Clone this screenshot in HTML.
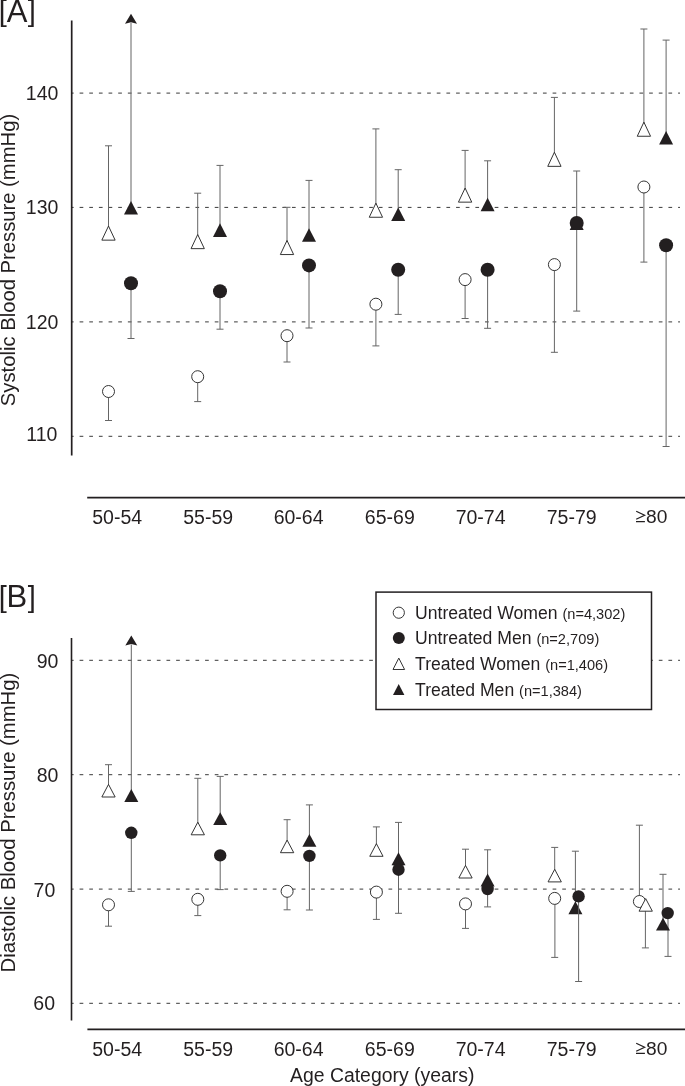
<!DOCTYPE html>
<html><head><meta charset="utf-8"><style>
html,body{margin:0;padding:0;background:#fff;}
svg{display:block;will-change:transform;}
text{font-family:"Liberation Sans",sans-serif;fill:#231f20;}
</style></head><body>
<svg width="685" height="1086" viewBox="0 0 685 1086">
<rect width="685" height="1086" fill="#fff"/>
<text x="-1.2" y="21.3" font-size="29" text-anchor="start" >[</text>
<text x="6.8" y="21.6" font-size="31" text-anchor="start" >A</text>
<text x="27.8" y="21.3" font-size="29" text-anchor="start" >]</text>
<line x1="72" y1="93.1" x2="680" y2="93.1" stroke="#3a3a3a" stroke-width="1" stroke-dasharray="3.7 5.953" stroke-dashoffset="2.05"/>
<line x1="72" y1="207.4" x2="680" y2="207.4" stroke="#3a3a3a" stroke-width="1" stroke-dasharray="3.7 5.953" stroke-dashoffset="2.05"/>
<line x1="72" y1="321.9" x2="680" y2="321.9" stroke="#3a3a3a" stroke-width="1" stroke-dasharray="3.7 5.953" stroke-dashoffset="2.05"/>
<line x1="72" y1="436.3" x2="680" y2="436.3" stroke="#3a3a3a" stroke-width="1" stroke-dasharray="3.7 5.953" stroke-dashoffset="2.05"/>
<line x1="71.7" y1="20.5" x2="71.7" y2="455.5" stroke="#231f20" stroke-width="1.7"/>
<line x1="87.2" y1="497.6" x2="685" y2="497.6" stroke="#231f20" stroke-width="1.8"/>
<text x="58.4" y="99.9" font-size="19.5" text-anchor="end" >140</text>
<text x="58.4" y="214.3" font-size="19.5" text-anchor="end" >130</text>
<text x="58.4" y="328.8" font-size="19.5" text-anchor="end" >120</text>
<text x="57.4" y="441.2" font-size="19.5" text-anchor="end" >110</text>
<text x="15.4" y="406.2" font-size="19.5" transform="rotate(-90 15.4 406.2)" textLength="292.4" lengthAdjust="spacingAndGlyphs">Systolic Blood Pressure (mmHg)</text>
<line x1="108.5" y1="145.8" x2="108.5" y2="233.1" stroke="#656565" stroke-width="1"/>
<line x1="105.0" y1="145.8" x2="112.0" y2="145.8" stroke="#656565" stroke-width="1"/>
<line x1="131.0" y1="22.7" x2="131.0" y2="207.8" stroke="#656565" stroke-width="1"/>
<path d="M131.0 13.7 L137.0 23.7 L131.0 22.2 L125.0 23.7 Z" fill="#231f20"/>
<line x1="131.0" y1="283.3" x2="131.0" y2="338.5" stroke="#656565" stroke-width="1"/>
<line x1="127.5" y1="338.5" x2="134.5" y2="338.5" stroke="#656565" stroke-width="1"/>
<line x1="108.5" y1="391.5" x2="108.5" y2="420.5" stroke="#656565" stroke-width="1"/>
<line x1="105.0" y1="420.5" x2="112.0" y2="420.5" stroke="#656565" stroke-width="1"/>
<path d="M131.0 201.0 L138.0 214.60000000000002 L124.0 214.60000000000002 Z" fill="#231f20"/>
<circle cx="131.0" cy="283.3" r="7.0" fill="#231f20"/>
<circle cx="108.5" cy="391.5" r="6" fill="#fff" stroke="#2a2a2a" stroke-width="0.95"/>
<path d="M108.5 226.04999999999998 L115.15 240.15 L101.85 240.15 Z" fill="#fff" stroke="#2a2a2a" stroke-width="0.95" stroke-linejoin="miter"/>
<line x1="197.7" y1="193.2" x2="197.7" y2="241.6" stroke="#656565" stroke-width="1"/>
<line x1="194.2" y1="193.2" x2="201.2" y2="193.2" stroke="#656565" stroke-width="1"/>
<line x1="220.0" y1="165.4" x2="220.0" y2="230.1" stroke="#656565" stroke-width="1"/>
<line x1="216.5" y1="165.4" x2="223.5" y2="165.4" stroke="#656565" stroke-width="1"/>
<line x1="220.0" y1="291.2" x2="220.0" y2="329.2" stroke="#656565" stroke-width="1"/>
<line x1="216.5" y1="329.2" x2="223.5" y2="329.2" stroke="#656565" stroke-width="1"/>
<line x1="197.7" y1="376.7" x2="197.7" y2="401.6" stroke="#656565" stroke-width="1"/>
<line x1="194.2" y1="401.6" x2="201.2" y2="401.6" stroke="#656565" stroke-width="1"/>
<path d="M220.0 223.29999999999998 L227.0 236.9 L213.0 236.9 Z" fill="#231f20"/>
<circle cx="220.0" cy="291.2" r="7.0" fill="#231f20"/>
<circle cx="197.7" cy="376.7" r="6" fill="#fff" stroke="#2a2a2a" stroke-width="0.95"/>
<path d="M197.7 234.54999999999998 L204.35 248.65 L191.04999999999998 248.65 Z" fill="#fff" stroke="#2a2a2a" stroke-width="0.95" stroke-linejoin="miter"/>
<line x1="287.0" y1="207.3" x2="287.0" y2="247.5" stroke="#656565" stroke-width="1"/>
<line x1="283.5" y1="207.3" x2="290.5" y2="207.3" stroke="#656565" stroke-width="1"/>
<line x1="309.0" y1="180.4" x2="309.0" y2="235.0" stroke="#656565" stroke-width="1"/>
<line x1="305.5" y1="180.4" x2="312.5" y2="180.4" stroke="#656565" stroke-width="1"/>
<line x1="309.0" y1="265.4" x2="309.0" y2="328.0" stroke="#656565" stroke-width="1"/>
<line x1="305.5" y1="328.0" x2="312.5" y2="328.0" stroke="#656565" stroke-width="1"/>
<line x1="287.0" y1="335.7" x2="287.0" y2="362.0" stroke="#656565" stroke-width="1"/>
<line x1="283.5" y1="362.0" x2="290.5" y2="362.0" stroke="#656565" stroke-width="1"/>
<path d="M309.0 228.2 L316.0 241.8 L302.0 241.8 Z" fill="#231f20"/>
<circle cx="309.0" cy="265.4" r="7.0" fill="#231f20"/>
<circle cx="287.0" cy="335.7" r="6" fill="#fff" stroke="#2a2a2a" stroke-width="0.95"/>
<path d="M287.0 240.45 L293.65 254.55 L280.35 254.55 Z" fill="#fff" stroke="#2a2a2a" stroke-width="0.95" stroke-linejoin="miter"/>
<line x1="375.9" y1="128.9" x2="375.9" y2="210.2" stroke="#656565" stroke-width="1"/>
<line x1="372.4" y1="128.9" x2="379.4" y2="128.9" stroke="#656565" stroke-width="1"/>
<line x1="398.2" y1="169.7" x2="398.2" y2="214.2" stroke="#656565" stroke-width="1"/>
<line x1="394.7" y1="169.7" x2="401.7" y2="169.7" stroke="#656565" stroke-width="1"/>
<line x1="398.2" y1="269.8" x2="398.2" y2="314.4" stroke="#656565" stroke-width="1"/>
<line x1="394.7" y1="314.4" x2="401.7" y2="314.4" stroke="#656565" stroke-width="1"/>
<line x1="375.9" y1="304.2" x2="375.9" y2="345.9" stroke="#656565" stroke-width="1"/>
<line x1="372.4" y1="345.9" x2="379.4" y2="345.9" stroke="#656565" stroke-width="1"/>
<path d="M398.2 207.39999999999998 L405.2 221.0 L391.2 221.0 Z" fill="#231f20"/>
<circle cx="398.2" cy="269.8" r="7.0" fill="#231f20"/>
<circle cx="375.9" cy="304.2" r="6" fill="#fff" stroke="#2a2a2a" stroke-width="0.95"/>
<path d="M375.9 203.14999999999998 L382.54999999999995 217.25 L369.25 217.25 Z" fill="#fff" stroke="#2a2a2a" stroke-width="0.95" stroke-linejoin="miter"/>
<line x1="465.1" y1="150.4" x2="465.1" y2="195.1" stroke="#656565" stroke-width="1"/>
<line x1="461.6" y1="150.4" x2="468.6" y2="150.4" stroke="#656565" stroke-width="1"/>
<line x1="487.6" y1="160.8" x2="487.6" y2="204.5" stroke="#656565" stroke-width="1"/>
<line x1="484.1" y1="160.8" x2="491.1" y2="160.8" stroke="#656565" stroke-width="1"/>
<line x1="487.6" y1="269.8" x2="487.6" y2="328.3" stroke="#656565" stroke-width="1"/>
<line x1="484.1" y1="328.3" x2="491.1" y2="328.3" stroke="#656565" stroke-width="1"/>
<line x1="465.1" y1="279.6" x2="465.1" y2="318.5" stroke="#656565" stroke-width="1"/>
<line x1="461.6" y1="318.5" x2="468.6" y2="318.5" stroke="#656565" stroke-width="1"/>
<path d="M487.6 197.7 L494.6 211.3 L480.6 211.3 Z" fill="#231f20"/>
<circle cx="487.6" cy="269.8" r="7.0" fill="#231f20"/>
<circle cx="465.1" cy="279.6" r="6" fill="#fff" stroke="#2a2a2a" stroke-width="0.95"/>
<path d="M465.1 188.04999999999998 L471.75 202.15 L458.45000000000005 202.15 Z" fill="#fff" stroke="#2a2a2a" stroke-width="0.95" stroke-linejoin="miter"/>
<line x1="554.4" y1="97.4" x2="554.4" y2="159.3" stroke="#656565" stroke-width="1"/>
<line x1="550.9" y1="97.4" x2="557.9" y2="97.4" stroke="#656565" stroke-width="1"/>
<line x1="576.7" y1="171.0" x2="576.7" y2="223.3" stroke="#656565" stroke-width="1"/>
<line x1="573.2" y1="171.0" x2="580.2" y2="171.0" stroke="#656565" stroke-width="1"/>
<line x1="576.7" y1="223.0" x2="576.7" y2="311.1" stroke="#656565" stroke-width="1"/>
<line x1="573.2" y1="311.1" x2="580.2" y2="311.1" stroke="#656565" stroke-width="1"/>
<line x1="554.4" y1="264.6" x2="554.4" y2="352.3" stroke="#656565" stroke-width="1"/>
<line x1="550.9" y1="352.3" x2="557.9" y2="352.3" stroke="#656565" stroke-width="1"/>
<path d="M576.7 216.5 L583.7 230.10000000000002 L569.7 230.10000000000002 Z" fill="#231f20"/>
<circle cx="576.7" cy="223.0" r="7.0" fill="#231f20"/>
<circle cx="554.4" cy="264.6" r="6" fill="#fff" stroke="#2a2a2a" stroke-width="0.95"/>
<path d="M554.4 152.25 L561.05 166.35000000000002 L547.75 166.35000000000002 Z" fill="#fff" stroke="#2a2a2a" stroke-width="0.95" stroke-linejoin="miter"/>
<line x1="643.9" y1="29.0" x2="643.9" y2="129.2" stroke="#656565" stroke-width="1"/>
<line x1="640.4" y1="29.0" x2="647.4" y2="29.0" stroke="#656565" stroke-width="1"/>
<line x1="666.1" y1="40.1" x2="666.1" y2="137.7" stroke="#656565" stroke-width="1"/>
<line x1="662.6" y1="40.1" x2="669.6" y2="40.1" stroke="#656565" stroke-width="1"/>
<line x1="666.1" y1="245.2" x2="666.1" y2="446.5" stroke="#656565" stroke-width="1"/>
<line x1="662.6" y1="446.5" x2="669.6" y2="446.5" stroke="#656565" stroke-width="1"/>
<line x1="643.9" y1="187.0" x2="643.9" y2="262.1" stroke="#656565" stroke-width="1"/>
<line x1="640.4" y1="262.1" x2="647.4" y2="262.1" stroke="#656565" stroke-width="1"/>
<path d="M666.1 130.89999999999998 L673.1 144.5 L659.1 144.5 Z" fill="#231f20"/>
<circle cx="666.1" cy="245.2" r="7.0" fill="#231f20"/>
<circle cx="643.9" cy="187.0" r="6" fill="#fff" stroke="#2a2a2a" stroke-width="0.95"/>
<path d="M643.9 122.14999999999999 L650.55 136.25 L637.25 136.25 Z" fill="#fff" stroke="#2a2a2a" stroke-width="0.95" stroke-linejoin="miter"/>
<text x="117.2" y="523.7" font-size="19.5" text-anchor="middle" >50-54</text>
<text x="208.2" y="523.7" font-size="19.5" text-anchor="middle" >55-59</text>
<text x="298.6" y="523.7" font-size="19.5" text-anchor="middle" >60-64</text>
<text x="389.8" y="523.7" font-size="19.5" text-anchor="middle" >65-69</text>
<text x="480.6" y="523.7" font-size="19.5" text-anchor="middle" >70-74</text>
<text x="571.7" y="523.7" font-size="19.5" text-anchor="middle" >75-79</text>
<path d="M636.2 511.3 L644.6 515.3 L636.2 519.3 M636.0 521.5 L644.9 521.5" fill="none" stroke="#231f20" stroke-width="1.25"/>
<text x="646.1" y="523.3000000000001" font-size="19.2" text-anchor="start" >80</text>
<text x="-1.2" y="606.8" font-size="29" text-anchor="start" >[</text>
<text x="6.6" y="606.8" font-size="31" text-anchor="start" >B</text>
<text x="27.8" y="606.8" font-size="29" text-anchor="start" >]</text>
<line x1="72" y1="660.3" x2="680" y2="660.3" stroke="#3a3a3a" stroke-width="1" stroke-dasharray="3.7 5.953" stroke-dashoffset="2.05"/>
<line x1="72" y1="774.7" x2="680" y2="774.7" stroke="#3a3a3a" stroke-width="1" stroke-dasharray="3.7 5.953" stroke-dashoffset="2.05"/>
<line x1="72" y1="889.1" x2="680" y2="889.1" stroke="#3a3a3a" stroke-width="1" stroke-dasharray="3.7 5.953" stroke-dashoffset="2.05"/>
<line x1="72" y1="1003.3" x2="680" y2="1003.3" stroke="#3a3a3a" stroke-width="1" stroke-dasharray="3.7 5.953" stroke-dashoffset="2.05"/>
<line x1="71.5" y1="638.1" x2="71.5" y2="1020.5" stroke="#231f20" stroke-width="1.6"/>
<line x1="87.4" y1="1029.3" x2="685" y2="1029.3" stroke="#231f20" stroke-width="1.7"/>
<text x="58.4" y="668" font-size="19.5" text-anchor="end" >90</text>
<text x="58.4" y="782.4" font-size="19.5" text-anchor="end" >80</text>
<text x="55.3" y="897.1" font-size="19.5" text-anchor="end" >70</text>
<text x="55.0" y="1010.1" font-size="19.5" text-anchor="end" >60</text>
<text x="15.2" y="972.5" font-size="19.5" transform="rotate(-90 15.2 972.5)" textLength="299.8" lengthAdjust="spacingAndGlyphs">Diastolic Blood Pressure (mmHg)</text>
<line x1="108.5" y1="764.7" x2="108.5" y2="790.7" stroke="#656565" stroke-width="1"/>
<line x1="105.0" y1="764.7" x2="112.0" y2="764.7" stroke="#656565" stroke-width="1"/>
<line x1="131.3" y1="644.5" x2="131.3" y2="795.5" stroke="#656565" stroke-width="1"/>
<path d="M131.3 635.5 L137.3 645.5 L131.3 644.0 L125.30000000000001 645.5 Z" fill="#231f20"/>
<line x1="131.3" y1="832.8" x2="131.3" y2="891.4" stroke="#656565" stroke-width="1"/>
<line x1="127.80000000000001" y1="891.4" x2="134.8" y2="891.4" stroke="#656565" stroke-width="1"/>
<line x1="108.5" y1="904.8" x2="108.5" y2="926.2" stroke="#656565" stroke-width="1"/>
<line x1="105.0" y1="926.2" x2="112.0" y2="926.2" stroke="#656565" stroke-width="1"/>
<path d="M131.3 789.05 L138.3 801.95 L124.30000000000001 801.95 Z" fill="#231f20"/>
<circle cx="131.3" cy="832.8" r="6.2" fill="#231f20"/>
<circle cx="108.5" cy="904.8" r="6" fill="#fff" stroke="#2a2a2a" stroke-width="0.95"/>
<path d="M108.5 784.4000000000001 L115.15 797.0 L101.85 797.0 Z" fill="#fff" stroke="#2a2a2a" stroke-width="0.95" stroke-linejoin="miter"/>
<line x1="197.8" y1="778.3" x2="197.8" y2="828.5" stroke="#656565" stroke-width="1"/>
<line x1="194.3" y1="778.3" x2="201.3" y2="778.3" stroke="#656565" stroke-width="1"/>
<line x1="220.2" y1="776.4" x2="220.2" y2="818.6" stroke="#656565" stroke-width="1"/>
<line x1="216.7" y1="776.4" x2="223.7" y2="776.4" stroke="#656565" stroke-width="1"/>
<line x1="220.2" y1="855.4" x2="220.2" y2="889.6" stroke="#656565" stroke-width="1"/>
<line x1="216.7" y1="889.6" x2="223.7" y2="889.6" stroke="#656565" stroke-width="1"/>
<line x1="197.8" y1="899.3" x2="197.8" y2="915.6" stroke="#656565" stroke-width="1"/>
<line x1="194.3" y1="915.6" x2="201.3" y2="915.6" stroke="#656565" stroke-width="1"/>
<path d="M220.2 812.15 L227.2 825.0500000000001 L213.2 825.0500000000001 Z" fill="#231f20"/>
<circle cx="220.2" cy="855.4" r="6.2" fill="#231f20"/>
<circle cx="197.8" cy="899.3" r="6" fill="#fff" stroke="#2a2a2a" stroke-width="0.95"/>
<path d="M197.8 822.2 L204.45000000000002 834.8 L191.15 834.8 Z" fill="#fff" stroke="#2a2a2a" stroke-width="0.95" stroke-linejoin="miter"/>
<line x1="287.1" y1="819.7" x2="287.1" y2="846.4" stroke="#656565" stroke-width="1"/>
<line x1="283.6" y1="819.7" x2="290.6" y2="819.7" stroke="#656565" stroke-width="1"/>
<line x1="309.4" y1="804.9" x2="309.4" y2="840.4" stroke="#656565" stroke-width="1"/>
<line x1="305.9" y1="804.9" x2="312.9" y2="804.9" stroke="#656565" stroke-width="1"/>
<line x1="309.4" y1="855.9" x2="309.4" y2="910.0" stroke="#656565" stroke-width="1"/>
<line x1="305.9" y1="910.0" x2="312.9" y2="910.0" stroke="#656565" stroke-width="1"/>
<line x1="287.1" y1="891.3" x2="287.1" y2="909.8" stroke="#656565" stroke-width="1"/>
<line x1="283.6" y1="909.8" x2="290.6" y2="909.8" stroke="#656565" stroke-width="1"/>
<path d="M309.4 833.9499999999999 L316.4 846.85 L302.4 846.85 Z" fill="#231f20"/>
<circle cx="309.4" cy="855.9" r="6.2" fill="#231f20"/>
<circle cx="287.1" cy="891.3" r="6" fill="#fff" stroke="#2a2a2a" stroke-width="0.95"/>
<path d="M287.1 840.1 L293.75 852.6999999999999 L280.45000000000005 852.6999999999999 Z" fill="#fff" stroke="#2a2a2a" stroke-width="0.95" stroke-linejoin="miter"/>
<line x1="376.4" y1="826.9" x2="376.4" y2="850.0" stroke="#656565" stroke-width="1"/>
<line x1="372.9" y1="826.9" x2="379.9" y2="826.9" stroke="#656565" stroke-width="1"/>
<line x1="398.5" y1="822.4" x2="398.5" y2="858.8" stroke="#656565" stroke-width="1"/>
<line x1="395.0" y1="822.4" x2="402.0" y2="822.4" stroke="#656565" stroke-width="1"/>
<line x1="398.5" y1="869.7" x2="398.5" y2="913.3" stroke="#656565" stroke-width="1"/>
<line x1="395.0" y1="913.3" x2="402.0" y2="913.3" stroke="#656565" stroke-width="1"/>
<line x1="376.4" y1="892.1" x2="376.4" y2="919.4" stroke="#656565" stroke-width="1"/>
<line x1="372.9" y1="919.4" x2="379.9" y2="919.4" stroke="#656565" stroke-width="1"/>
<path d="M398.5 852.3499999999999 L405.5 865.25 L391.5 865.25 Z" fill="#231f20"/>
<circle cx="398.5" cy="869.7" r="6.2" fill="#231f20"/>
<circle cx="376.4" cy="892.1" r="6" fill="#fff" stroke="#2a2a2a" stroke-width="0.95"/>
<path d="M376.4 843.7 L383.04999999999995 856.3 L369.75 856.3 Z" fill="#fff" stroke="#2a2a2a" stroke-width="0.95" stroke-linejoin="miter"/>
<line x1="465.5" y1="849.2" x2="465.5" y2="871.7" stroke="#656565" stroke-width="1"/>
<line x1="462.0" y1="849.2" x2="469.0" y2="849.2" stroke="#656565" stroke-width="1"/>
<line x1="487.6" y1="849.8" x2="487.6" y2="880.0" stroke="#656565" stroke-width="1"/>
<line x1="484.1" y1="849.8" x2="491.1" y2="849.8" stroke="#656565" stroke-width="1"/>
<line x1="487.6" y1="889.0" x2="487.6" y2="906.9" stroke="#656565" stroke-width="1"/>
<line x1="484.1" y1="906.9" x2="491.1" y2="906.9" stroke="#656565" stroke-width="1"/>
<line x1="465.5" y1="903.9" x2="465.5" y2="928.4" stroke="#656565" stroke-width="1"/>
<line x1="462.0" y1="928.4" x2="469.0" y2="928.4" stroke="#656565" stroke-width="1"/>
<path d="M487.6 873.55 L494.6 886.45 L480.6 886.45 Z" fill="#231f20"/>
<circle cx="487.6" cy="889.0" r="6.2" fill="#231f20"/>
<circle cx="465.5" cy="903.9" r="6" fill="#fff" stroke="#2a2a2a" stroke-width="0.95"/>
<path d="M465.5 865.4000000000001 L472.15 878.0 L458.85 878.0 Z" fill="#fff" stroke="#2a2a2a" stroke-width="0.95" stroke-linejoin="miter"/>
<line x1="554.7" y1="847.4" x2="554.7" y2="875.6" stroke="#656565" stroke-width="1"/>
<line x1="551.2" y1="847.4" x2="558.2" y2="847.4" stroke="#656565" stroke-width="1"/>
<line x1="575.4" y1="851.2" x2="575.4" y2="907.7" stroke="#656565" stroke-width="1"/>
<line x1="571.9" y1="851.2" x2="578.9" y2="851.2" stroke="#656565" stroke-width="1"/>
<line x1="554.9" y1="898.4" x2="554.9" y2="957.4" stroke="#656565" stroke-width="1"/>
<line x1="551.2" y1="957.4" x2="558.2" y2="957.4" stroke="#656565" stroke-width="1"/>
<path d="M575.4 901.25 L582.4 914.1500000000001 L568.4 914.1500000000001 Z" fill="#231f20"/>
<line x1="578.6" y1="896.4" x2="578.6" y2="981.5" stroke="#656565" stroke-width="1"/>
<line x1="575.1" y1="981.5" x2="582.1" y2="981.5" stroke="#656565" stroke-width="1"/>
<circle cx="578.6" cy="896.4" r="6.2" fill="#231f20"/>
<circle cx="554.7" cy="898.4" r="6" fill="#fff" stroke="#2a2a2a" stroke-width="0.95"/>
<path d="M554.7 869.3000000000001 L561.35 881.9 L548.0500000000001 881.9 Z" fill="#fff" stroke="#2a2a2a" stroke-width="0.95" stroke-linejoin="miter"/>
<line x1="639.4" y1="825.2" x2="639.4" y2="901.5" stroke="#656565" stroke-width="1"/>
<line x1="635.9" y1="825.2" x2="642.9" y2="825.2" stroke="#656565" stroke-width="1"/>
<line x1="645.4" y1="905" x2="645.4" y2="947.9" stroke="#656565" stroke-width="1"/>
<line x1="641.9" y1="947.9" x2="648.9" y2="947.9" stroke="#656565" stroke-width="1"/>
<line x1="668" y1="913.1" x2="668" y2="956.4" stroke="#656565" stroke-width="1"/>
<line x1="664.5" y1="956.4" x2="671.5" y2="956.4" stroke="#656565" stroke-width="1"/>
<line x1="663" y1="874.3" x2="663" y2="924" stroke="#656565" stroke-width="1"/>
<line x1="659.5" y1="874.3" x2="666.5" y2="874.3" stroke="#656565" stroke-width="1"/>
<circle cx="639.4" cy="901.5" r="6" fill="#fff" stroke="#2a2a2a" stroke-width="0.95"/>
<path d="M645.7 898.6 L652.35 911.1999999999999 L639.0500000000001 911.1999999999999 Z" fill="#fff" stroke="#2a2a2a" stroke-width="0.95" stroke-linejoin="miter"/>
<circle cx="667.7" cy="913.1" r="6.2" fill="#231f20"/>
<path d="M663 917.65 L670.0 930.5500000000001 L656.0 930.5500000000001 Z" fill="#231f20"/>
<text x="117.2" y="1055.6" font-size="19.5" text-anchor="middle" >50-54</text>
<text x="208.2" y="1055.6" font-size="19.5" text-anchor="middle" >55-59</text>
<text x="298.6" y="1055.6" font-size="19.5" text-anchor="middle" >60-64</text>
<text x="389.8" y="1055.6" font-size="19.5" text-anchor="middle" >65-69</text>
<text x="480.6" y="1055.6" font-size="19.5" text-anchor="middle" >70-74</text>
<text x="571.7" y="1055.6" font-size="19.5" text-anchor="middle" >75-79</text>
<path d="M636.2 1043.1999999999998 L644.6 1047.1999999999998 L636.2 1051.1999999999998 M636.0 1053.3999999999999 L644.9 1053.3999999999999" fill="none" stroke="#231f20" stroke-width="1.25"/>
<text x="646.1" y="1055.1999999999998" font-size="19.2" text-anchor="start" >80</text>
<text x="382.2" y="1082.4" font-size="19.4" text-anchor="middle" >Age Category (years)</text>
<rect x="376" y="592.1" width="275.5" height="117.4" fill="#fff" stroke="#231f20" stroke-width="1.5"/>
<circle cx="398.8" cy="612.7" r="5.6" fill="#fff" stroke="#2a2a2a" stroke-width="0.95"/>
<circle cx="398.8" cy="638.1" r="6" fill="#231f20"/>
<path d="M398.8 658.0999999999999 L404.6 669.5 L393.0 669.5 Z" fill="#fff" stroke="#2a2a2a" stroke-width="0.95" stroke-linejoin="miter"/>
<path d="M398.7 684.0 L404.4 695.0 L393.0 695.0 Z" fill="#231f20"/>
<text x="415.1" y="618.5" font-size="17.6">Untreated Women <tspan font-size="14.6">(n=4,302)</tspan></text>
<text x="415.1" y="644.25" font-size="17.6">Untreated Men <tspan font-size="14.6">(n=2,709)</tspan></text>
<text x="415.1" y="670.0" font-size="17.6">Treated Women <tspan font-size="14.6">(n=1,406)</tspan></text>
<text x="415.1" y="695.75" font-size="17.6">Treated Men <tspan font-size="14.6">(n=1,384)</tspan></text>
</svg>
</body></html>
